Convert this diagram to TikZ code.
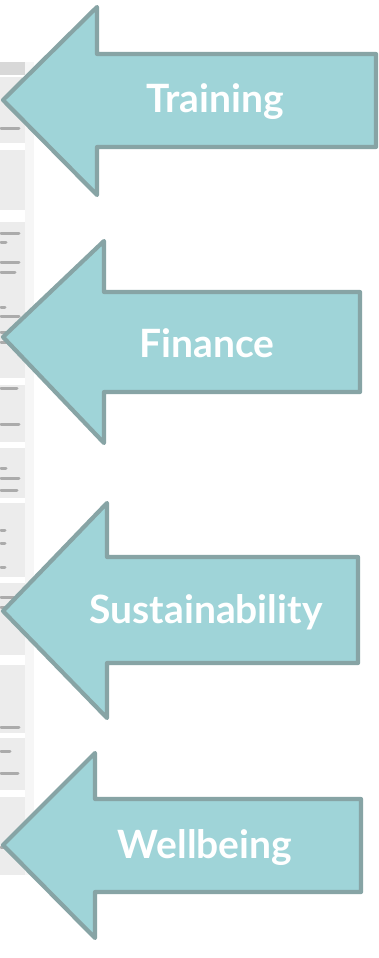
\documentclass[tikz,border=0pt]{standalone}
\usepackage{fontspec}
\setmainfont{Lato}
\begin{document}
\begin{tikzpicture}[x=1pt,y=-1pt,
  bigarrow/.style={fill=arrowfill,draw=arrowline,line width=4.2pt,line join=round},
  lbl/.style={text=white,font=\bfseries\fontsize{39}{39}\selectfont,inner sep=0pt},
  smudge/.style={draw=smudgegray,line width=3pt,line cap=round}]
\definecolor{arrowfill}{HTML}{9FD4D8}
\definecolor{arrowline}{HTML}{87A4A5}
\definecolor{rowgray}{HTML}{ECECEC}
\definecolor{headgray}{HTML}{D8D8D8}
\definecolor{smudgegray}{HTML}{ABABAB}
\useasboundingbox (0,0) rectangle (378,958);
\fill[white] (0,0) rectangle (378,958);
% faint table fragment on the left
\fill[headgray] (0,62) rectangle (25,75);
\fill[rowgray] (0,77) rectangle (25,143);
\fill[rowgray] (0,150) rectangle (25,210);
\fill[rowgray] (0,222) rectangle (25,378);
\fill[rowgray] (0,385) rectangle (25,442);
\fill[rowgray] (0,448) rectangle (25,498);
\fill[rowgray] (0,503) rectangle (25,577);
\fill[rowgray] (0,583) rectangle (25,655);
\fill[rowgray] (0,665) rectangle (25,733);
\fill[rowgray] (0,738) rectangle (25,790);
\fill[rowgray] (0,797) rectangle (25,875);
\fill[rowgray!50] (25,62) rectangle (34,875);
\foreach \yy/\ww in {128/19,233/19,242/6,262/19,272/15,307/5,316/19,332/18,342/12,388/17,424/19,468/6,478/19,490/17,530/5,543/5,567/5,597/19,607/10,727/19,751/10,773/18,847/20}
  \draw[smudge] (1,\yy) -- (\ww,\yy);
% arrows
\draw[bigarrow] (3,100) -- (97,7) -- (97,54) -- (376,54) -- (376,147) -- (97,147) -- (97,195) -- cycle;
\node[lbl] (t1) at (215,102) {Training};
\draw[bigarrow] (3,337) -- (104,241) -- (104,292) -- (360,292) -- (360,392) -- (104,392) -- (104,443) -- cycle;
\node[lbl] (t2) at (207,343) {Finance};
\draw[bigarrow] (3,611) -- (107,503) -- (107,557) -- (358,557) -- (358,663) -- (107,663) -- (107,718) -- cycle;
\node[lbl] (t3) at (206,612) {Sustainability};
\draw[bigarrow] (3,845) -- (95,753) -- (95,799) -- (361,799) -- (361,892) -- (95,892) -- (95,938) -- cycle;
\node[lbl] (t4) at (205,848) {Wellbeing};
\end{tikzpicture}
\end{document}
